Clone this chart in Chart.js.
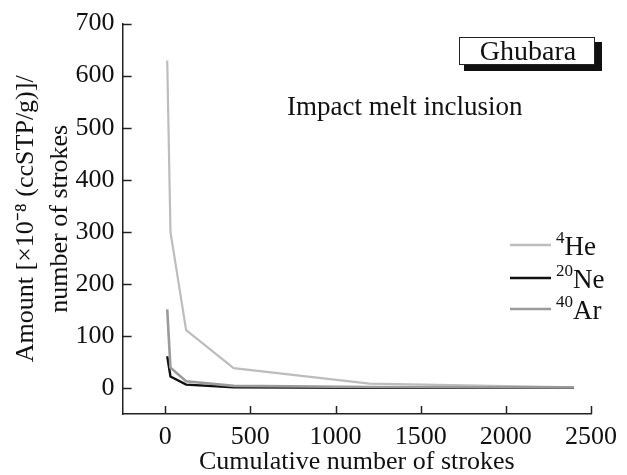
<!DOCTYPE html>
<html>
<head>
<meta charset="utf-8">
<script src="https://cdn.jsdelivr.net/npm/chart.js"></script>
<style>
  html, body { margin: 0; padding: 0; background: #fff; }
  #wrap { width: 627px; height: 475px; }
</style>
</head>
<body>
<div id="wrap"><canvas id="c"></canvas></div>
<script>
// data
const strokes = [12, 31, 123, 402, 1200, 2400];
const he4 = [629, 300, 111, 38, 8.5, 1];
const ne20 = [61, 22, 6.5, 1.5, 0.5, 0.2];
const ar40 = [151, 39, 13, 4, 2, 1];

const xTicks = [0, 500, 1000, 1500, 2000, 2500];
const yTicks = [0, 100, 200, 300, 400, 500, 600, 700];

const seriesNames = [['4', 'He'], ['20', 'Ne'], ['40', 'Ar']];
const seriesColors = ['#bdbdbd', '#111111', '#9b9b9b'];

const FONT = '"Liberation Serif", "Times New Roman", serif';
const FS = 26;

function pts(ys) {
  return strokes.map((x, i) => ({ x: x, y: ys[i] }));
}

// inward ticks, legend, labels
const extras = {
  id: 'extras',
  afterDraw(chart) {
    const ctx = chart.ctx;
    const xs = chart.scales.x, ys = chart.scales.y;
    const area = chart.chartArea;
    ctx.save();
    ctx.strokeStyle = '#222';
    ctx.lineWidth = 1.5;
    xTicks.forEach(v => {
      const px = Math.round(xs.getPixelForValue(v)) + 0.5;
      ctx.beginPath();
      ctx.moveTo(px, area.bottom);
      ctx.lineTo(px, area.bottom - 8);
      ctx.stroke();
    });
    yTicks.forEach(v => {
      const py = Math.round(ys.getPixelForValue(v)) + 0.5;
      ctx.beginPath();
      ctx.moveTo(area.left, py);
      ctx.lineTo(area.left + 9, py);
      ctx.stroke();
    });

    // legend
    const legY = [245, 278, 309];
    seriesNames.forEach((n, i) => {
      ctx.strokeStyle = seriesColors[i];
      ctx.lineWidth = 2.5;
      ctx.beginPath();
      ctx.moveTo(510, legY[i]);
      ctx.lineTo(551, legY[i]);
      ctx.stroke();
      ctx.fillStyle = '#111';
      ctx.textBaseline = 'alphabetic';
      ctx.textAlign = 'left';
      ctx.font = '17px ' + FONT;
      ctx.fillText(n[0], 556, legY[i] - 2);
      const w = ctx.measureText(n[0]).width;
      ctx.font = '27px ' + FONT;
      ctx.fillText(n[1], 556 + w, legY[i] + 10);
    });

    // Ghubara box
    ctx.fillStyle = '#111';
    ctx.fillRect(464, 42, 138, 29);
    ctx.fillStyle = '#fff';
    ctx.fillRect(459, 37, 136, 28);
    ctx.strokeStyle = '#222';
    ctx.lineWidth = 1;
    ctx.strokeRect(459.5, 37.5, 135, 27);
    ctx.fillStyle = '#111';
    ctx.font = '28px ' + FONT;
    ctx.textAlign = 'center';
    ctx.textBaseline = 'alphabetic';
    ctx.fillText('Ghubara', 528, 60);

    ctx.font = '27px ' + FONT;
    ctx.textAlign = 'left';
    ctx.fillText('Impact melt inclusion', 287, 115);
    ctx.restore();
  }
};

new Chart(document.getElementById('c'), {
  type: 'scatter',
  data: {
    datasets: [
      { label: '4He', data: pts(he4), borderColor: seriesColors[0], borderWidth: 2.2, order: 3 },
      { label: '20Ne', data: pts(ne20), borderColor: seriesColors[1], borderWidth: 2.4, order: 2 },
      { label: '40Ar', data: pts(ar40), borderColor: seriesColors[2], borderWidth: 2.6, order: 1 }
    ].map(d => Object.assign(d, { showLine: true, pointRadius: 0, tension: 0, fill: false }))
  },
  options: {
    responsive: true,
    maintainAspectRatio: false,
    animation: false,
    layout: { padding: { top: 12, right: 8, left: 9, bottom: 0 } },
    plugins: { legend: { display: false }, tooltip: { enabled: false } },
    scales: {
      x: {
        type: 'linear',
        min: -250,
        max: 2500,
        afterBuildTicks: s => { s.ticks = xTicks.map(v => ({ value: v })); },
        grid: { display: false, drawTicks: false },
        border: { display: true, color: '#222', width: 1.5 },
        ticks: { color: '#111', font: { family: FONT, size: FS, lineHeight: 1.0 }, padding: 10, maxRotation: 0, callback: v => String(v) },
        title: { display: true, text: 'Cumulative number of strokes', color: '#111', font: { family: FONT, size: FS, lineHeight: 1.0 }, padding: { top: -11, bottom: 0 } }
      },
      y: {
        type: 'linear',
        min: -50,
        max: 700,
        afterBuildTicks: s => { s.ticks = yTicks.map(v => ({ value: v })); },
        grid: { display: false, drawTicks: false },
        border: { display: true, color: '#222', width: 1.5 },
        ticks: { color: '#111', font: { family: FONT, size: FS }, padding: 8, callback: v => String(v) },
        title: { display: true, text: ['Amount [×10⁻⁸ (ccSTP/g)]/', 'number of strokes'], color: '#111', font: { family: FONT, size: FS, lineHeight: 1.3 }, padding: { top: 0, bottom: -9 } }
      }
    }
  },
  plugins: [extras]
});
</script>
</body>
</html>
